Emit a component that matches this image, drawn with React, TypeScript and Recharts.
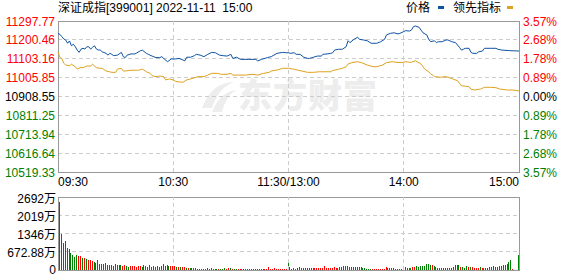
import React from "react";
import {
  ComposedChart,
  Line,
  XAxis,
  YAxis,
  CartesianGrid,
  ReferenceArea,
  ReferenceLine,
  BarChart,
  Bar,
  Cell,
} from "recharts";

// ---------- text ----------
const titleText = "深证成指[399001] 2022-11-11  15:00";
const legendNames = ["价格", "领先指标"];
const watermarkText = "东方财富";

// ---------- axes ----------
const prevClose = 10908.55;
const priceTicks = [11297.77, 11200.46, 11103.16, 11005.85, 10908.55, 10811.25, 10713.94, 10616.64, 10519.33];
const pctTicks = [3.57, 2.68, 1.78, 0.89, 0, -0.89, -1.78, -2.68, -3.57];
const volTicks = [0, 672.88, 1346, 2019, 2692];
const timeTicks = [0, 60, 120, 180, 240];
const timeLabels = ["09:30", "10:30", "11:30/13:00", "14:00", "15:00"];

// ---------- price line (minute index -> value) ----------
const priceMinutes = [
  0, 1, 2, 3, 4, 5, 6, 7, 8, 9, 10, 11, 12, 13, 14, 15, 16, 17, 18, 19, 20, 21, 22, 23, 25, 26, 27, 28, 29, 31,
  33, 34, 35, 36, 38, 40, 41, 43, 44, 46, 47, 49, 51, 53, 54, 55, 57, 59, 60, 61, 63, 65, 66, 67, 69, 71, 72, 74,
  76, 78, 80, 82, 84, 86, 88, 90, 91, 93, 95, 99, 103, 104, 106, 109, 111, 114, 117, 119, 120, 121, 123, 124, 126,
  128, 130, 131, 133, 135, 137, 138, 140, 142, 143, 144, 146, 148, 150, 151, 152, 154, 156, 157, 159, 161, 163,
  164, 166, 168, 170, 171, 173, 175, 177, 178, 180, 181, 183, 184, 185, 186, 188, 189, 190, 192, 193, 194, 196,
  197, 198, 200, 202, 203, 205, 207, 208, 209, 210, 211, 212, 214, 215, 216, 218, 219, 221, 222, 225, 228, 229,
  231, 235, 240,
];
const priceValues = [
  11234, 11229, 11217, 11205, 11200, 11183, 11195, 11170, 11178, 11165, 11148, 11136, 11153, 11157, 11153, 11165,
  11165, 11153, 11162, 11170, 11153, 11148, 11148, 11139, 11131, 11122, 11131, 11126, 11119, 11122, 11136, 11114,
  11109, 11122, 11128, 11128, 11133, 11145, 11147, 11131, 11126, 11117, 11109, 11109, 11114, 11105, 11088, 11102,
  11102, 11102, 11105, 11097, 11092, 11111, 11111, 11119, 11126, 11122, 11114, 11126, 11136, 11134, 11122, 11119,
  11117, 11126, 11105, 11111, 11100, 11100, 11100, 11092, 11100, 11109, 11114, 11131, 11136, 11134, 11134, 11131,
  11134, 11126, 11126, 11111, 11105, 11105, 11111, 11117, 11117, 11126, 11128, 11131, 11134, 11148, 11152, 11152,
  11165, 11196, 11186, 11203, 11214, 11203, 11200, 11196, 11183, 11183, 11183, 11191, 11203, 11226, 11234, 11237,
  11231, 11234, 11243, 11248, 11246, 11251, 11268, 11272, 11265, 11251, 11237, 11226, 11203, 11191, 11196, 11186,
  11191, 11191, 11200, 11200, 11191, 11186, 11174, 11162, 11148, 11152, 11157, 11157, 11136, 11131, 11131, 11139,
  11143, 11157, 11157, 11157, 11152, 11148, 11145, 11143,
];

// ---------- leading indicator line ----------
const leadMinutes = [
  0, 1, 2, 3, 4, 6, 7, 9, 10, 12, 13, 15, 17, 18, 20, 22, 23, 25, 28, 30, 31, 33, 34, 35, 38, 41, 42, 44, 46, 48,
  49, 51, 53, 55, 56, 58, 60, 61, 62, 65, 67, 69, 71, 73, 76, 78, 80, 83, 85, 88, 90, 91, 94, 98, 101, 104, 107,
  110, 111, 114, 117, 120, 123, 126, 130, 133, 136, 138, 142, 143, 146, 148, 150, 151, 153, 156, 158, 161, 164,
  166, 169, 171, 174, 176, 179, 181, 183, 184, 186, 187, 189, 190, 191, 193, 194, 195, 196, 199, 202, 204, 206,
  208, 209, 210, 212, 214, 215, 217, 220, 222, 225, 228, 230, 234, 237, 240,
];
const leadValues = [
  11139, 11110, 11105, 11080, 11071, 11067, 11075, 11062, 11050, 11059, 11057, 11066, 11066, 11075, 11057, 11054,
  11054, 11040, 11033, 11033, 11050, 11054, 11040, 11040, 11044, 11044, 11044, 11050, 11036, 11028, 11016, 11011,
  11014, 11011, 10994, 10999, 10994, 10988, 10985, 10982, 10994, 10999, 11005, 11011, 11011, 11019, 11028, 11028,
  11023, 11023, 11028, 11019, 11019, 11019, 11023, 11019, 11028, 11033, 11040, 11045, 11054, 11054, 11049, 11042,
  11033, 11033, 11036, 11036, 11036, 11042, 11049, 11054, 11062, 11076, 11083, 11088, 11083, 11071, 11062, 11062,
  11071, 11083, 11088, 11085, 11083, 11088, 11085, 11085, 11093, 11088, 11076, 11062, 11049, 11036, 11025, 11019,
  11011, 11008, 11011, 11005, 10997, 10990, 10977, 10964, 10962, 10959, 10946, 10942, 10947, 10956, 10956, 10954,
  10947, 10942, 10942, 10937,
];

// ---------- volume (万), one bar per minute 1..240 ----------
const volumes = [
  2509, 1322, 991, 1065, 820, 771, 624, 551, 477, 551,
  526, 514, 428, 453, 404, 367, 367, 330, 306, 269,
  367, 220, 208, 233, 269, 184, 184, 184, 159, 220,
  184, 184, 184, 159, 184, 147, 122, 147, 147, 147,
  122, 147, 147, 122, 184, 147, 122, 184, 122, 147,
  122, 147, 122, 159, 220, 147, 184, 147, 147, 147,
  147, 110, 110, 110, 110, 98, 73, 73, 73, 73,
  73, 73, 49, 49, 49, 49, 49, 73, 49,
  73,
  37, 37, 37, 37, 37, 37, 61, 37, 73, 61,
  37, 37, 37, 37, 37, 37, 37, 37, 37, 37,
  37, 37, 37, 37, 37, 37, 37, 37, 37, 110,
  37, 37, 73, 37, 37, 37, 37, 37, 37, 367,
  122, 37, 73, 37, 73, 122, 73, 73, 73, 73,
  73, 73, 73, 73, 73, 73, 73, 73, 147, 73,
  73, 73, 73, 110, 73, 73, 110, 110, 147, 147,
  147, 110, 110, 110, 110, 110, 110, 110, 73, 73,
  37, 37, 37, 37, 37, 37, 37, 37, 37, 37,
  98, 73, 73, 73, 61, 37, 37, 37, 37, 61,
  110, 73, 73, 73, 110, 110, 147, 110, 147, 147,
  147, 220, 220, 184, 184, 147, 110, 73, 73, 73,
  73, 73, 73, 73, 73, 110, 184, 184, 184, 110,
  110, 73, 147, 110, 110, 110, 73, 73, 73, 110,
  73, 73, 73, 73, 110, 110, 147, 110, 110, 147,
  147, 184, 184, 220, 294, 380, 37, 0, 0, 540,
];
// r = up (red), g = down (green)
const volumeSides = (
  "rggggrgggg" + "rrgrgrrrgg" + "grggrggrgr" + "gggrrggrrr" + "rrrggrgggr" + "grggggrgrr" + "rgrgrrgrgg" + "rrgggrrrg" +
  "g" + "rggrgggrrg" + "rggrrggrrr" + "rrrrrrrrrr" + "rrrrrrrrrg" + "grrrgggggg" + "rrrrrrrrrr" + "rrrrrrrrrr" + "grrrrgrggg" +
  "gggrrrrrrr" + "rrrrgggggr" + "rgggrrgggg" + "ggggrgrrrr" + "rrrrgggggr" + "gggrgrrrrg" + "rrrrgrgrrg" + "ggggggrrrg"
).split("");

// ---------- styles ----------
const RED = "#ff0000";
const GREEN = "#008000";
const PRICE_COLOR = "#0f53a3";
const LEAD_COLOR = "#dda21f";
const GRID = "#cccccc";
const BORDER = "#999999";
const FONT = "'Liberation Sans', Arial, 'Noto Sans CJK SC', sans-serif";

// merged table for the line chart
const lineData = (() => {
  const map = new Map<number, any>();
  priceMinutes.forEach((m, i) => {
    map.set(m, { ...(map.get(m) || { m }), price: priceValues[i] });
  });
  leadMinutes.forEach((m, i) => {
    map.set(m, { ...(map.get(m) || { m }), lead: leadValues[i] });
  });
  return Array.from(map.values()).sort((a, b) => a.m - b.m);
})();

const volData = volumes.map((v, i) => ({ m: i + 1, v, side: volumeSides[i] }));
const innerTimeTicks = timeTicks.slice(1, -1);

const LeftPriceTick = (props: any) => {
  const { x, y, payload } = props;
  const v = payload.value;
  const fill = v > prevClose + 0.001 ? RED : v < prevClose - 0.001 ? GREEN : "#000";
  return (
    <text x={x} y={y + 4.5} textAnchor="end" fill={fill} fontSize={12} fontFamily={FONT}>
      {v.toFixed(2)}
    </text>
  );
};

const RightPctTick = (props: any) => {
  const { x, y, payload } = props;
  const v = payload.value;
  const fill = v > 0.001 ? RED : v < -0.001 ? GREEN : "#000";
  return (
    <text x={x} y={y + 4.5} textAnchor="start" fill={fill} fontSize={12} fontFamily={FONT}>
      {Math.abs(v).toFixed(2) + "%"}
    </text>
  );
};

const TimeTick = (props: any) => {
  const { x, y, payload } = props;
  const idx = timeTicks.indexOf(payload.value);
  const anchor = idx === 0 ? "start" : idx === timeTicks.length - 1 ? "end" : "middle";
  return (
    <text x={x} y={y + 14} textAnchor={anchor} fill="#000" fontSize={12} fontFamily={FONT}>
      {timeLabels[idx]}
    </text>
  );
};

const VolTick = (props: any) => {
  const { x, y, payload } = props;
  const v = payload.value;
  return (
    <text x={x} y={v === 0 ? y + 4 : y + 5.5} textAnchor="end" fill="#000" fontSize={12} fontFamily={FONT}>
      {v === 0 ? "0" : String(v) + "万"}
    </text>
  );
};

export default function App() {
  return (
    <div
      style={{
        position: "absolute",
        left: 0,
        top: 0,
        width: 578,
        height: 276,
        background: "#fff",
        fontFamily: FONT,
        overflow: "hidden",
      }}
    >
      {/* watermark */}
      <div
        style={{
          position: "absolute",
          left: 238,
          top: 74,
          fontSize: 34,
          fontWeight: 900,
          color: "#ededed",
          fontFamily: "'Noto Sans CJK SC', sans-serif",
          letterSpacing: 1,
          lineHeight: "40px",
          whiteSpace: "nowrap",
        }}
      >
        {watermarkText}
      </div>
      <svg style={{ position: "absolute", left: 198, top: 78 }} width={40} height={38}>
        <path d="M4 30 Q14 4 36 4 Q20 10 14 30 Z" fill="#ededed" />
        <path d="M14 34 Q22 14 38 12 Q28 18 24 34 Z" fill="#ededed" />
      </svg>

      {/* header */}
      <div
        style={{
          position: "absolute",
          left: 58,
          top: 0,
          fontSize: 12,
          lineHeight: "16px",
          color: "#000",
          whiteSpace: "pre",
        }}
      >
        {titleText}
      </div>

      {/* legend */}
      <div style={{ position: "absolute", left: 406, top: 0, fontSize: 12, lineHeight: "16px", whiteSpace: "nowrap" }}>
        {legendNames[0]}
      </div>
      <div style={{ position: "absolute", left: 438, top: 6, width: 6, height: 3, background: PRICE_COLOR }} />
      <div style={{ position: "absolute", left: 453, top: 0, fontSize: 12, lineHeight: "16px", whiteSpace: "nowrap" }}>
        {legendNames[1]}
      </div>
      <div style={{ position: "absolute", left: 507, top: 6, width: 6, height: 3, background: LEAD_COLOR }} />

      {/* price chart */}
      <div style={{ position: "absolute", left: 0, top: 0 }}>
        <ComposedChart width={578} height={192} data={lineData} margin={{ top: 21, right: 0, bottom: 0, left: 0 }}>
          <CartesianGrid
            yAxisId="l"
            vertical={false}
            stroke={GRID}
            strokeDasharray="4 3"
            shapeRendering="crispEdges"
          />
          <XAxis
            dataKey="m"
            type="number"
            domain={[0, 240]}
            ticks={timeTicks}
            interval={0}
            height={20}
            tickSize={0}
            tickMargin={0}
            axisLine={false}
            tickLine={false}
            tick={TimeTick}
          />
          <YAxis
            yAxisId="l"
            orientation="left"
            width={58}
            domain={[priceTicks[priceTicks.length - 1], priceTicks[0]]}
            ticks={priceTicks}
            interval={0}
            tickSize={0}
            tickMargin={3}
            axisLine={false}
            tickLine={false}
            allowDataOverflow
            tick={LeftPriceTick}
          />
          <YAxis
            yAxisId="r"
            orientation="right"
            width={59}
            domain={[pctTicks[pctTicks.length - 1], pctTicks[0]]}
            ticks={pctTicks}
            interval={0}
            tickSize={0}
            tickMargin={4}
            axisLine={false}
            tickLine={false}
            allowDataOverflow
            tick={RightPctTick}
          />
          {innerTimeTicks.map((t) => (
            <ReferenceLine
              key={t}
              yAxisId="l"
              x={t}
              stroke={GRID}
              strokeDasharray="4 3"
              shapeRendering="crispEdges"
            />
          ))}
          <Line
            yAxisId="l"
            dataKey="lead"
            stroke={LEAD_COLOR}
            strokeWidth={1}
            dot={false}
            connectNulls
            isAnimationActive={false}
            type="linear"
          />
          <Line
            yAxisId="l"
            dataKey="price"
            stroke={PRICE_COLOR}
            strokeWidth={1}
            dot={false}
            connectNulls
            isAnimationActive={false}
            type="linear"
          />
          <ReferenceArea
            yAxisId="l"
            x1={0}
            x2={240}
            y1={priceTicks[priceTicks.length - 1]}
            y2={priceTicks[0]}
            fill="none"
            stroke={BORDER}
            strokeWidth={1}
            shapeRendering="crispEdges"
            ifOverflow="visible"
          />
        </ComposedChart>
      </div>

      {/* volume chart */}
      <div style={{ position: "absolute", left: 0, top: 190 }}>
        <BarChart width={578} height={86} data={volData} margin={{ top: 7, right: 59, bottom: 6, left: 0 }}>
          <CartesianGrid vertical={false} stroke={GRID} strokeDasharray="4 3" shapeRendering="crispEdges" />
          <XAxis
            dataKey="m"
            type="number"
            domain={[0, 240]}
            ticks={timeTicks}
            interval={0}
            height={0}
            tick={false}
            axisLine={false}
            tickLine={false}
          />
          <YAxis
            width={58}
            domain={[0, volTicks[volTicks.length - 1]]}
            ticks={volTicks}
            interval={0}
            tickSize={0}
            tickMargin={2}
            axisLine={false}
            tickLine={false}
            allowDataOverflow
            tick={VolTick}
          />
          {innerTimeTicks.map((t) => (
            <ReferenceLine key={t} x={t} stroke={GRID} strokeDasharray="4 3" shapeRendering="crispEdges" />
          ))}
          <Bar dataKey="v" barSize={1} isAnimationActive={false} shapeRendering="crispEdges">
            {volData.map((d, i) => (
              <Cell key={i} fill={d.side === "r" ? RED : GREEN} />
            ))}
          </Bar>
          <ReferenceArea
            x1={0}
            x2={240}
            y1={0}
            y2={volTicks[volTicks.length - 1]}
            fill="none"
            stroke={BORDER}
            strokeWidth={1}
            shapeRendering="crispEdges"
            ifOverflow="visible"
          />
        </BarChart>
      </div>
    </div>
  );
}
